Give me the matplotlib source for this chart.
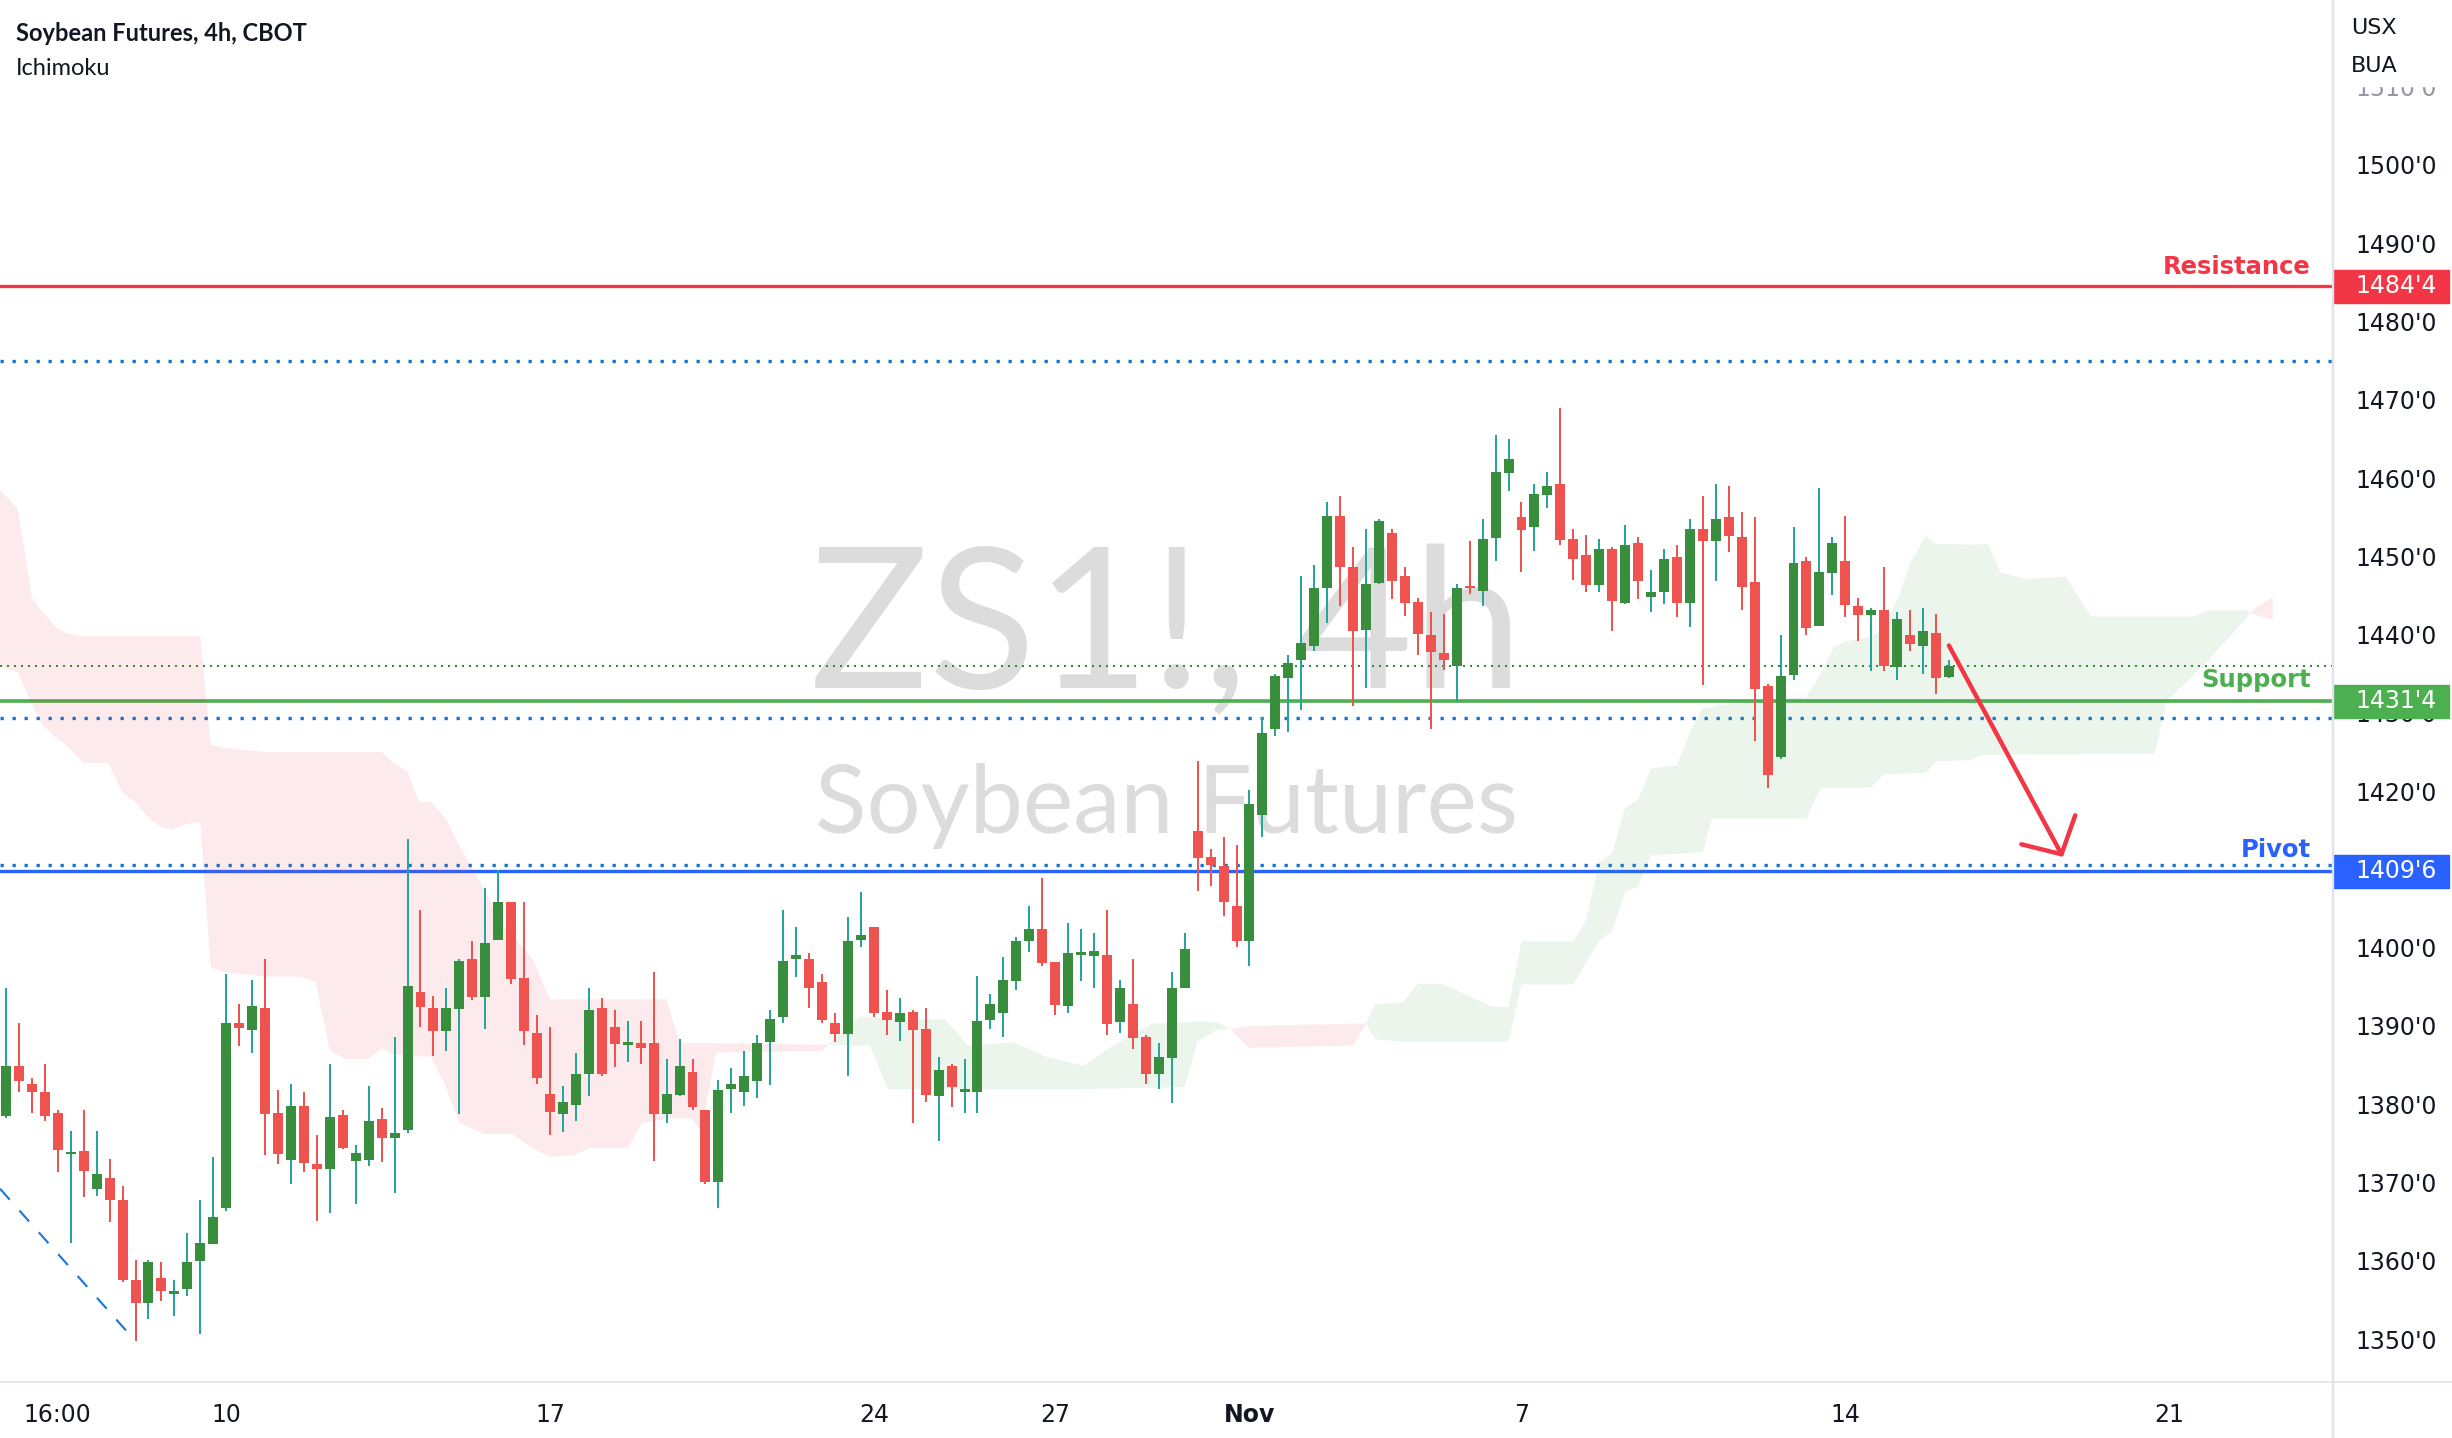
import numpy as np
import matplotlib
matplotlib.use('Agg')
import matplotlib.pyplot as plt
from matplotlib.patches import Rectangle
from matplotlib.lines import Line2D
import matplotlib.transforms as mtransforms

# ---- candles (4h bars) ----
opens = [1378.5, 1384.9, 1382.6, 1381.6, 1378.9, 1373.6, 1374.0, 1369.2, 1370.6, 1367.8,
         1357.5, 1354.6, 1357.8, 1355.8, 1356.4, 1360.0, 1362.2, 1366.7, 1390.4, 1389.5,
         1392.3, 1378.9, 1372.9, 1379.8, 1372.3, 1371.7, 1378.6, 1372.8, 1372.9, 1378.1,
         1375.7, 1376.7, 1394.3, 1392.3, 1389.3, 1392.2, 1398.5, 1393.7, 1401.0, 1405.8,
         1396.1, 1389.1, 1381.3, 1378.8, 1379.9, 1383.8, 1392.3, 1389.9, 1387.6, 1387.8,
         1387.8, 1378.8, 1381.2, 1384.1, 1379.3, 1370.0, 1382.0, 1381.5, 1383.0, 1388.0,
         1391.1, 1398.5, 1398.6, 1395.6, 1390.4, 1389.0, 1401.0, 1402.6, 1391.8, 1390.5,
         1391.8, 1389.6, 1381.0, 1384.9, 1381.6, 1381.5, 1390.8, 1391.6, 1395.8, 1400.8,
         1402.4, 1398.2, 1392.5, 1399.1, 1399.0, 1399.1, 1390.5, 1392.8, 1388.6, 1383.8,
         1385.9, 1394.8, 1414.9, 1411.6, 1410.4, 1405.3, 1400.8, 1416.9, 1427.9, 1434.4,
         1436.8, 1438.6, 1445.9, 1455.1, 1448.6, 1440.6, 1446.6, 1453.0, 1447.5, 1444.2,
         1440.0, 1437.6, 1436.0, 1446.2, 1445.6, 1452.4, 1460.7, 1455.0, 1453.7, 1457.9,
         1459.2, 1452.2, 1450.2, 1446.4, 1450.9, 1444.1, 1451.7, 1444.8, 1445.4, 1449.9,
         1444.1, 1453.5, 1451.9, 1455.0, 1452.5, 1446.7, 1433.4, 1424.3, 1434.9, 1449.4,
         1441.1, 1447.9, 1449.4, 1443.6, 1442.5, 1443.1, 1435.9, 1439.9, 1438.6, 1440.2,
         1434.6]
highs = [1394.8, 1390.4, 1383.3, 1385.1, 1379.3, 1376.6, 1379.3, 1376.6, 1373.0, 1369.5,
         1360.1, 1360.1, 1359.8, 1357.5, 1363.5, 1367.8, 1373.3, 1396.6, 1392.8, 1395.9,
         1398.5, 1381.8, 1382.6, 1381.5, 1376.1, 1385.1, 1379.2, 1374.8, 1382.3, 1379.5,
         1388.6, 1413.9, 1404.8, 1393.8, 1394.8, 1398.5, 1400.8, 1407.6, 1409.9, 1405.8,
         1405.8, 1391.4, 1389.9, 1382.3, 1386.5, 1394.8, 1393.6, 1392.0, 1390.6, 1390.6,
         1396.9, 1385.8, 1388.3, 1385.8, 1379.3, 1383.1, 1384.6, 1386.8, 1388.8, 1392.0,
         1404.8, 1402.6, 1399.3, 1396.6, 1391.7, 1403.9, 1407.1, 1402.6, 1394.6, 1393.6,
         1392.0, 1392.3, 1386.0, 1385.1, 1385.8, 1396.4, 1394.1, 1398.8, 1401.4, 1405.3,
         1408.9, 1398.2, 1403.1, 1402.4, 1401.9, 1404.8, 1395.9, 1398.6, 1388.8, 1387.8,
         1396.9, 1401.9, 1423.9, 1412.6, 1414.1, 1413.1, 1420.1, 1429.5, 1435.0, 1437.4,
         1447.5, 1448.9, 1456.9, 1457.7, 1451.2, 1453.5, 1454.8, 1453.5, 1448.6, 1444.7,
         1442.9, 1442.6, 1446.5, 1451.9, 1454.8, 1465.5, 1465.0, 1456.9, 1459.2, 1460.8,
         1468.9, 1453.5, 1452.7, 1452.2, 1451.2, 1454.0, 1452.5, 1448.3, 1450.9, 1451.4,
         1454.8, 1457.7, 1459.2, 1459.0, 1455.7, 1455.0, 1433.7, 1439.9, 1453.7, 1449.9,
         1458.7, 1452.5, 1455.2, 1444.7, 1443.4, 1448.6, 1442.9, 1443.1, 1443.4, 1442.6,
         1436.7]
lows = [1378.2, 1381.6, 1378.9, 1377.9, 1371.4, 1362.3, 1368.1, 1368.3, 1364.9, 1357.3,
        1349.8, 1352.6, 1354.8, 1352.9, 1355.5, 1350.6, 1362.2, 1366.4, 1387.4, 1386.6,
        1373.5, 1372.4, 1369.8, 1371.4, 1365.1, 1366.1, 1374.3, 1367.3, 1372.1, 1372.6,
        1368.6, 1376.3, 1389.9, 1386.1, 1386.8, 1378.7, 1393.3, 1389.6, 1401.0, 1395.4,
        1387.6, 1382.6, 1376.1, 1376.4, 1377.9, 1381.1, 1383.6, 1384.7, 1385.4, 1385.2,
        1372.7, 1377.6, 1381.1, 1379.2, 1369.8, 1366.7, 1378.9, 1379.8, 1380.8, 1382.4,
        1390.4, 1396.2, 1392.3, 1390.4, 1387.9, 1383.6, 1400.1, 1391.2, 1388.9, 1388.1,
        1377.6, 1380.3, 1375.3, 1379.6, 1378.9, 1378.9, 1389.6, 1388.6, 1394.6, 1399.4,
        1397.7, 1391.4, 1391.7, 1395.7, 1394.9, 1388.9, 1389.1, 1387.1, 1382.6, 1382.0,
        1380.2, 1394.8, 1407.2, 1407.9, 1404.0, 1400.1, 1397.7, 1414.2, 1427.0, 1427.5,
        1430.4, 1437.9, 1441.5, 1443.7, 1430.9, 1433.2, 1446.5, 1444.5, 1442.4, 1437.4,
        1428.0, 1435.5, 1431.4, 1445.2, 1443.7, 1449.4, 1458.3, 1448.0, 1450.7, 1456.2,
        1451.5, 1447.0, 1445.5, 1445.5, 1440.5, 1443.9, 1444.5, 1442.9, 1443.9, 1442.3,
        1441.0, 1433.5, 1446.8, 1450.5, 1443.2, 1426.4, 1420.4, 1424.1, 1434.2, 1440.0,
        1441.1, 1445.0, 1442.3, 1439.2, 1435.3, 1435.3, 1434.2, 1437.9, 1435.0, 1432.4,
        1434.5]
closes = [1384.9, 1383.0, 1381.5, 1378.5, 1374.2, 1373.9, 1371.5, 1371.1, 1367.7, 1357.5,
          1354.6, 1359.8, 1356.2, 1356.1, 1359.8, 1362.3, 1365.6, 1390.4, 1389.8, 1392.5,
          1378.8, 1373.7, 1379.8, 1372.5, 1371.7, 1378.4, 1374.4, 1373.8, 1377.8, 1375.7,
          1376.3, 1395.1, 1392.4, 1389.3, 1392.3, 1398.3, 1393.7, 1400.6, 1405.8, 1396.0,
          1389.3, 1383.3, 1379.0, 1380.3, 1383.9, 1392.0, 1383.8, 1387.7, 1387.9, 1387.2,
          1378.8, 1381.3, 1384.9, 1379.7, 1370.0, 1381.8, 1382.6, 1383.6, 1387.8, 1390.9,
          1398.3, 1399.1, 1394.8, 1390.8, 1389.0, 1400.9, 1401.6, 1391.7, 1390.8, 1391.6,
          1389.5, 1381.2, 1384.4, 1382.2, 1381.9, 1390.6, 1392.8, 1395.9, 1400.9, 1402.4,
          1398.1, 1392.7, 1399.3, 1399.2, 1399.6, 1390.3, 1394.8, 1388.5, 1383.8, 1386.0,
          1394.8, 1399.8, 1411.5, 1410.6, 1405.8, 1400.8, 1418.4, 1427.4, 1434.7, 1436.4,
          1438.9, 1445.9, 1455.1, 1448.6, 1440.4, 1446.5, 1454.5, 1446.9, 1444.1, 1440.1,
          1437.8, 1436.8, 1445.9, 1445.9, 1452.2, 1460.8, 1462.4, 1453.4, 1458.0, 1459.0,
          1452.1, 1449.6, 1446.4, 1450.9, 1444.3, 1451.4, 1446.9, 1445.4, 1449.7, 1444.1,
          1453.5, 1451.9, 1454.8, 1452.6, 1446.1, 1433.1, 1422.1, 1434.7, 1449.1, 1440.9,
          1448.0, 1451.7, 1443.8, 1442.5, 1443.1, 1436.0, 1442.0, 1438.8, 1440.5, 1434.4,
          1436.0]

# ---- Ichimoku cloud edges (bar index, span A, span B) ----
cloud_x = [-0.5, 0.9, 2.0, 2.8, 3.9, 4.7, 6.0, 7.9, 9.0, 9.8, 11.2, 12.0, 12.8, 13.9, 15.0,
           15.8, 16.9, 20.1, 22.8, 23.9, 25.0, 26.1, 28.0, 29.0, 29.9, 31.0, 31.9, 32.8,
           33.9, 35.0, 36.9, 38.5, 39.1, 40.7, 42.0, 43.9, 45.0, 48.0, 49.1, 51.0, 52.0,
           52.9, 53.7, 54.8, 63.0, 65.9, 66.7, 68.1, 72.5, 74.3, 77.8, 80.2, 83.2, 85.0,
           88.5, 91.0, 92.0, 93.5, 94.5, 96.0, 104.0, 105.0, 105.7, 107.8, 109.0, 110.8,
           112.3, 114.7, 116.0, 117.0, 121.0, 122.0, 123.0, 124.0, 125.0, 126.0, 127.0,
           129.0, 130.0, 131.0, 131.7, 134.1, 139.0, 140.1, 141.1, 142.0, 144.0, 145.0,
           146.1, 147.0, 148.2, 149.0, 151.7, 152.5, 153.0, 154.0, 156.0, 159.0, 159.8,
           161.0, 165.9, 166.8, 169.0, 169.9, 172.9, 173.5, 175.0]
span_a = [1435.9, 1435.2, 1431.2, 1428.5, 1426.8, 1425.8, 1423.6, 1423.6, 1419.8, 1418.9,
          1416.3, 1415.4, 1415.1, 1415.8, 1416.1, 1397.5, 1396.9, 1396.3, 1396.3, 1395.6,
          1386.9, 1385.8, 1385.8, 1387.2, 1386.4, 1386.2, 1386.1, 1386.1, 1382.5, 1377.6,
          1376.2, 1376.2, 1376.2, 1374.3, 1373.3, 1373.5, 1374.4, 1374.4, 1377.6, 1378.2,
          1378.2, 1378.2, 1376.6, 1386.6, 1386.8, 1391.2, 1391.1, 1391.0, 1390.8, 1387.5,
          1387.9, 1386.1, 1384.9, 1387.0, 1390.3, 1390.5, 1390.6, 1390.5, 1389.6, 1387.2,
          1387.5, 1390.3, 1392.8, 1393.0, 1395.4, 1395.4, 1394.3, 1392.5, 1392.4, 1400.8,
          1400.8, 1403.6, 1410.9, 1412.1, 1417.9, 1418.9, 1422.9, 1423.3, 1427.5, 1430.6,
          1430.8, 1431.4, 1432.0, 1435.0, 1438.4, 1439.1, 1439.7, 1441.0, 1444.8, 1449.1,
          1452.6, 1451.6, 1451.5, 1451.5, 1451.6, 1447.9, 1447.1, 1447.4, 1445.3, 1442.3,
          1442.3, 1442.3, 1442.3, 1443.1, 1443.1, 1442.6, 1441.9]
span_b = [1458.5, 1456.1, 1444.7, 1442.9, 1440.9, 1440.1, 1439.8, 1439.8, 1439.8, 1439.8,
          1439.8, 1439.8, 1439.8, 1439.8, 1439.8, 1425.9, 1425.5, 1425.0, 1425.0, 1425.0,
          1425.0, 1425.0, 1425.0, 1425.0, 1423.6, 1422.5, 1418.6, 1418.6, 1416.6, 1413.0,
          1407.5, 1402.5, 1401.5, 1398.4, 1393.4, 1393.4, 1393.4, 1393.4, 1393.4, 1393.4,
          1387.8, 1387.8, 1387.8, 1387.8, 1387.6, 1387.5, 1387.5, 1381.9, 1381.9, 1381.9,
          1381.9, 1381.9, 1381.9, 1382.0, 1382.1, 1382.2, 1388.0, 1389.5, 1389.6, 1390.0,
          1390.3, 1390.3, 1388.3, 1388.0, 1388.0, 1388.0, 1388.0, 1388.0, 1388.0, 1395.3,
          1395.3, 1398.1, 1400.9, 1402.1, 1407.1, 1407.8, 1411.8, 1412.0, 1412.1, 1412.2,
          1416.5, 1416.5, 1416.5, 1420.4, 1420.4, 1420.4, 1420.5, 1422.2, 1422.2, 1422.3,
          1422.3, 1423.8, 1424.0, 1424.6, 1424.6, 1424.6, 1424.7, 1424.7, 1424.7, 1424.8,
          1424.8, 1431.5, 1435.0, 1436.5, 1442.0, 1443.2, 1444.8]

# ---- axis labels ----
date_pos = [4, 17, 42, 67, 81, 96, 117, 142, 167]
date_labels = ['16:00', '10', '17', '24', '27', 'Nov', '7', '14', '21']
price_ticks = list(range(1350, 1520, 10))

# ---- drawn levels ----
resistance = 1484.5
support = 1431.5
pivot = 1409.75
blue_dotted = [1474.9, 1429.4, 1410.6]
green_dotted = 1436.0
trend_x = [-0.46, 9.96]
trend_y = [1369.2, 1349.8]
arrow_from = (150.0, 1438.6)
arrow_to = (158.8, 1411.6)

UP, DOWN, UP_WICK = '#388E3C', '#EF5350', '#26A69A'
RED, GREEN, BLUE, DOT_BLUE = '#F23645', '#4CAF50', '#2962FF', '#1976D2'
TXT = '#131722'
GRID = '#E0E3EB'


def fmt_price(p):
    whole = int(p)
    eighths = int(round((p - whole) * 8))
    return f"{whole}'{eighths}"


W, H = 2452, 1438
fig = plt.figure(figsize=(W / 100, H / 100), dpi=100)
fig.patch.set_facecolor('white')
ax = fig.add_axes([0, 56 / H, 2333 / W, 1382 / H])
ax.set_xlim(-0.463, 179.65)
ax.set_ylim(1344.51, 1521.08)
for s in ax.spines.values():
    s.set_visible(False)

# watermark
ax.text(0.5, 0.502, 'ZS1!, 4h', transform=ax.transAxes, ha='center', va='baseline',
        fontsize=142, color='#DCDCDC', family='Lato', zorder=0)
ax.text(0.5, 0.397, 'Soybean Futures', transform=ax.transAxes, ha='center', va='baseline',
        fontsize=68.5, color='#DCDCDC', family='Lato', zorder=0)

# horizontal levels
ax.axhline(resistance, color=RED, lw=2.4, zorder=2)
ax.axhline(support, color=GREEN, lw=2.6, zorder=2)
ax.axhline(pivot, color=BLUE, lw=2.4, zorder=2)
for lv in blue_dotted:
    ax.axhline(lv, color=DOT_BLUE, lw=2.4, dashes=(1.0, 2.6), dash_capstyle='butt', zorder=2)
ax.axhline(green_dotted, color='#2E8B3A', lw=1.44, dashes=(1.0, 2.5), dash_capstyle='butt', zorder=2)
ax.plot(trend_x, trend_y, color=DOT_BLUE, lw=1.5, dashes=(7, 7), zorder=2)

# cloud
cx = np.array(cloud_x)
a = np.array(span_a)
b = np.array(span_b)
ax.fill_between(cx, a, b, where=a >= b, interpolate=True, color='#43A047', alpha=0.1, lw=0, zorder=2.5)
ax.fill_between(cx, a, b, where=a < b, interpolate=True, color=RED, alpha=0.1, lw=0, zorder=2.5)

# candles
o = np.array(opens)
h = np.array(highs)
l = np.array(lows)
c = np.array(closes)
x = np.arange(len(o))
up = c >= o
ax.vlines(x[up], l[up], h[up], color=UP_WICK, lw=1.44, zorder=3)
ax.vlines(x[~up], l[~up], h[~up], color=DOWN, lw=1.44, zorder=3)
body_lo = np.minimum(o, c)
body_h = np.maximum(np.abs(c - o), 0.3)
ax.bar(x[up], body_h[up], bottom=body_lo[up], width=0.77, color=UP, lw=0, zorder=4)
ax.bar(x[~up], body_h[~up], bottom=body_lo[~up], width=0.77, color=DOWN, lw=0, zorder=4)

# forecast arrow
ax.annotate('', xy=arrow_to, xytext=arrow_from,
            arrowprops=dict(arrowstyle='->,head_length=20,head_width=22', mutation_scale=1,
                            color=RED, lw=3.2, shrinkA=0, shrinkB=0), zorder=6)

# level names
for txt, lv, col, dy in [('Resistance', resistance, RED, 9), ('Support', support, GREEN, 10),
                         ('Pivot', pivot, BLUE, 10)]:
    ax.annotate(txt, xy=(1, lv), xycoords=('axes fraction', 'data'), xytext=(-16, dy),
                textcoords='offset points', ha='right', va='baseline', color=col,
                fontsize=17.5, fontweight='bold', family='DejaVu Sans', zorder=7)

# axes ticks
ax.yaxis.tick_right()
ax.set_yticks(price_ticks)
ax.set_yticklabels([f"{p}'0" for p in price_ticks])
ax.tick_params(axis='y', length=0, pad=15.8, labelsize=17, labelcolor=TXT)
ax.get_yticklabels()[-1].set_color('#9598A1')
ax.set_xticks(date_pos)
ax.set_xticklabels(date_labels)
ax.tick_params(axis='x', length=0, pad=15, labelsize=17, labelcolor=TXT)
ax.get_xticklabels()[5].set_fontweight('bold')

# price badges
bt = mtransforms.blended_transform_factory(ax.transAxes, ax.transData)
bw = 116 / 2333
bh = 33 / 7.827
for lv, col in [(resistance, RED), (support, GREEN), (pivot, BLUE)]:
    ax.add_patch(Rectangle((1.0, lv - bh / 2), bw, bh, transform=bt, color=col,
                           clip_on=False, zorder=8))
    ax.text(1 + 22 / 2333, lv, fmt_price(lv), transform=bt, ha='left', va='center',
            color='white', fontsize=17, clip_on=False, zorder=9)

# frame lines and header
fig.add_artist(Line2D([2333 / W, 2333 / W], [0, 1], transform=fig.transFigure, color=GRID, lw=1.7))
fig.add_artist(Line2D([0, 1], [56 / H, 56 / H], transform=fig.transFigure, color=GRID, lw=1.2))
fig.add_artist(Rectangle((2335 / W, 1 - 86 / H), 117 / W, 86 / H, transform=fig.transFigure,
                         color='white', zorder=1))
fig.text(2351 / W, 1 - 28 / H, 'USX', ha='left', va='center', fontsize=16, color=TXT)
fig.text(2351 / W, 1 - 66 / H, 'BUA', ha='left', va='center', fontsize=16, color=TXT)

fig.text(16 / W, 1 - 41 / H, 'Soybean Futures, 4h, CBOT', ha='left', va='baseline',
         fontsize=17, fontweight='bold', family='Lato', color=TXT)
fig.text(16 / W, 1 - 75 / H, 'Ichimoku', ha='left', va='baseline',
         fontsize=17, family='Lato', color=TXT)

fig.savefig('out.png', dpi=100, facecolor='white')
